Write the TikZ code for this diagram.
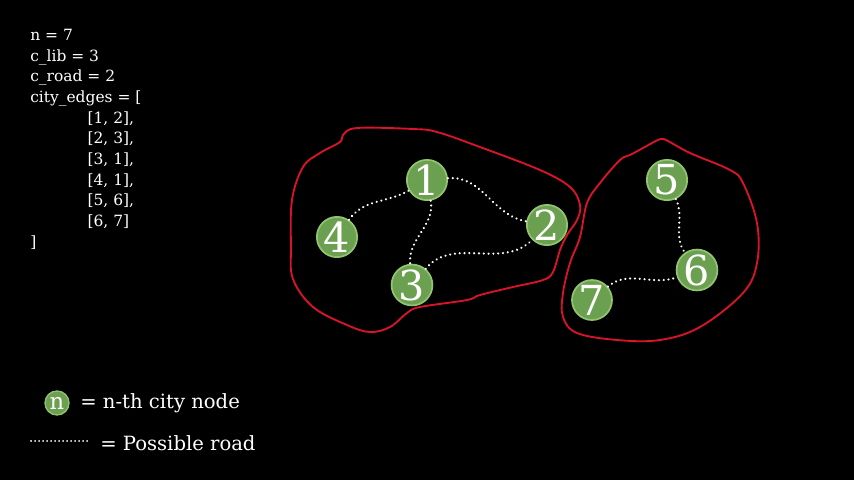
\documentclass[tikz,border=0pt]{standalone}
\usepackage{fontspec}
\setmainfont{DejaVu Serif}
\definecolor{citygreen}{RGB}{106,160,79}
\definecolor{cityrim}{RGB}{146,196,112}
\definecolor{blobred}{RGB}{215,20,40}
\begin{document}
\begin{tikzpicture}[x=0.75pt,y=-0.75pt,
  city/.style={circle,fill=citygreen,draw=cityrim,line width=1.3pt,minimum size=28.5pt,inner sep=0pt,text=white,font=\fontsize{31}{31}\selectfont},
  road/.style={white,line width=1.8pt,line cap=round,dash pattern=on 0.01pt off 3.6pt},
  blob/.style={blobred,line width=1.4pt},
  label/.style={text=white,inner sep=0pt}]
\fill[black] (0,0) rectangle (854,480);
\useasboundingbox (0,0) rectangle (854,480);

\node[label,anchor=north west,align=left,font=\fontsize{11.6}{15.5}\selectfont] (data) at (30,29) {n = 7\\c\_lib = 3\\c\_road = 2\\city\_edges = [\\
\hspace*{43pt}[1, 2],\\\hspace*{43pt}[2, 3],\\\hspace*{43pt}[3, 1],\\\hspace*{43pt}[4, 1],\\\hspace*{43pt}[5, 6],\\\hspace*{43pt}[6, 7]\\]};

\draw[blob] plot[smooth cycle,tension=0.6] coordinates {(343,135) (357,128) (413,129) (437,132) (480,147) (540,170) (570,187) (580,205) (577,220) (567,235) (560,250) (553,272) (543,280) (513,287) (480,295) (467,300) (420,307) (407,313) (390,327) (370,332) (347,325) (313,307) (293,279) (291,247) (292,200) (303,167) (320,153) (340,142)}; % component A
\draw[blob] plot[smooth cycle,tension=0.6] coordinates {(661,139) (652,143) (643,148) (630,155) (620,160) (600,183) (587,203) (580,237) (570,263) (563,293) (563,317) (577,333) (617,340) (660,340) (700,327) (743,293) (757,263) (757,223) (743,183) (730,170) (690,153) (668,141)}; % component B

\node[city] (c1) at (427,180) {1};
\node[city] (c2) at (547,225) {2};
\node[city] (c3) at (412,285) {3};
\node[city] (c4) at (337,237) {4};
\node[city] (c5) at (667,180) {5};
\node[city] (c6) at (697,270) {6};
\node[city] (c7) at (592,300) {7};

\draw[road] (c1) to[out=5,in=170] (c2);
\draw[road] (c4) to[out=55,in=210] (c1);
\draw[road] (c1) to[out=-80,in=95] (c3);
\draw[road] (c3) to[out=50,in=-135] (c2);
\draw[road] (c5) to[out=-65,in=125] (c6);
\draw[road] (c7) to[out=40,in=200] (c6);

% legend
\node[city,minimum size=18pt,line width=1pt,font=\fontsize{17}{17}\selectfont] (key) at (57,403) {n};
\node[label,anchor=west,font=\fontsize{14.7}{18}\selectfont] (keytext) at (80,403) {= n-th city node};
\coordinate (roada) at (31,441);
\coordinate (roadb) at (89,441);
\draw[road,line width=1.5pt,dash pattern=on 0.01pt off 3pt] (roada) -- (roadb);
\node[label,anchor=west,font=\fontsize{14.7}{18}\selectfont] (roadtext) at (100,443) {= Possible road};
\end{tikzpicture}
\end{document}
